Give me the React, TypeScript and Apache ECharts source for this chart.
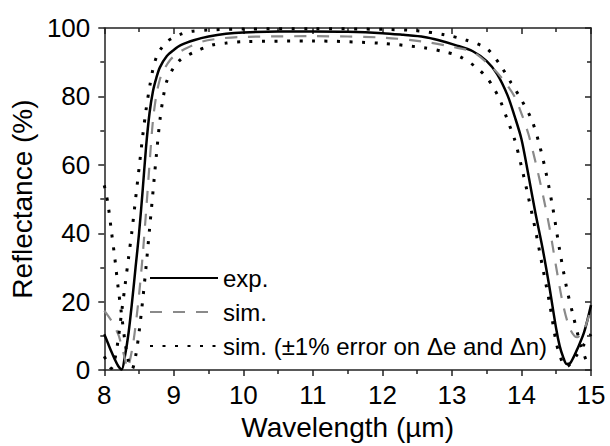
import React, { useEffect, useRef } from "react";
import * as echarts from "echarts";

// ---- data ----
const expWl = [8.0, 8.05, 8.1, 8.15, 8.2, 8.25, 8.3, 8.35, 8.4, 8.45, 8.5, 8.55, 8.6, 8.65, 8.7, 8.75, 8.8, 8.9, 9.0, 9.1, 9.3, 9.5, 9.75, 10.0, 10.5, 11.0, 11.5, 12.0, 12.3, 12.6, 12.8, 13.05, 13.3, 13.5, 13.65, 13.8, 13.9, 14.0, 14.1, 14.2, 14.3, 14.4, 14.5, 14.55, 14.6, 14.65, 14.7, 14.75, 14.8, 14.9, 15.0];
const expR = [10.5, 8, 5.5, 3.2, 1.2, 0.2, 4.5, 11, 20, 30, 40, 52, 65, 75, 81.5, 85.5, 88.5, 91.8, 93.6, 95, 96.5, 97.5, 98.3, 98.7, 99, 99, 98.9, 98.5, 98, 97.4, 96.5, 95, 93.2, 90.3, 86.5, 80.3, 74.3, 67.5, 57, 46, 36, 24.5, 12, 7, 3.8, 1.8, 2, 3.8, 6, 11, 19];

const simWl = [8.0, 8.1, 8.2, 8.25, 8.3, 8.33, 8.4, 8.45, 8.5, 8.55, 8.6, 8.65, 8.7, 8.75, 8.8, 8.85, 8.95, 9.05, 9.15, 9.4, 9.7, 10.0, 11.0, 12.0, 12.6, 13.0, 13.3, 13.6, 13.75, 13.9, 14.0, 14.1, 14.2, 14.3, 14.4, 14.5, 14.6, 14.7, 14.8, 14.9, 15.0];
const simR = [17.4, 14.5, 10.5, 7, 3, 0.5, 6, 13, 22, 33, 46, 60, 73, 80.5, 85, 87.5, 90.7, 92.5, 93.8, 96, 97, 97.4, 97.6, 97.2, 96, 94.5, 93, 88, 84.5, 80, 75, 69, 61, 52, 42, 30, 19, 12, 9.6, 11.8, 18];

const simHighWl = [8.0, 8.05, 8.1, 8.15, 8.2, 8.25, 8.3, 8.35, 8.4, 8.45, 8.5, 8.55, 8.6, 8.65, 8.7, 8.75, 8.8, 8.9, 9.0, 9.1, 9.25, 9.5, 10.0, 11.0, 12.0, 12.5, 12.9, 13.2, 13.5, 13.7, 13.85, 14.0, 14.15, 14.25, 14.35, 14.45, 14.55, 14.65, 14.75, 14.85, 14.95, 15.0];
const simHighR = [4, 2, 0.5, 3, 9, 17, 25, 33, 41, 50, 59, 68, 76, 82.5, 88, 91.5, 93.5, 96, 97.3, 98.2, 99, 99.4, 99.7, 99.8, 99.6, 99.2, 98, 96.5, 94, 89, 84, 79, 73, 66.5, 58, 47.5, 35, 24, 15.4, 7.5, 2, 1];

const simLowWl = [8.0, 8.05, 8.1, 8.15, 8.2, 8.25, 8.3, 8.35, 8.4, 8.45, 8.5, 8.55, 8.6, 8.65, 8.7, 8.75, 8.8, 8.85, 8.9, 9.0, 9.1, 9.3, 9.55, 9.75, 10.0, 11.0, 12.0, 12.6, 12.9, 13.1, 13.35, 13.5, 13.6, 13.7, 13.8, 13.9, 14.0, 14.1, 14.2, 14.3, 14.4, 14.5, 14.55, 14.6, 14.65, 14.7, 14.8, 14.9, 15.0];
const simLowR = [54, 49, 41, 33, 24, 16, 8, 2.5, 0.3, 4, 11, 20, 30, 41, 52, 63, 73, 80, 84.5, 88.5, 90.8, 93, 95, 95.6, 96, 96.2, 95.5, 94.2, 93, 91.8, 88.5, 85.5, 82.5, 78.5, 73, 67.5, 59.5, 50.5, 41, 30.5, 20, 8, 4.5, 1.8, 1, 1.8, 4.5, 7.5, 10.5];

const xTitle = "Wavelength (µm)";
const yTitle = "Reflectance (%)";
const nameExp = "exp.";
const nameSim = "sim.";
const nameErr = "sim. (±1% error on Δe and Δn)";

const FONT = "'Liberation Sans', Arial, Helvetica, sans-serif";
const AX = "#222";

const zip = (a: number[], b: number[]) => a.map((v, i) => [v, b[i]]);

export default function App() {
  const ref = useRef<HTMLDivElement>(null);
  useEffect(() => {
    if (!ref.current) return;
    const chart = echarts.init(ref.current, null, { renderer: "svg" });
    const axisLine = { show: true, onZero: false, lineStyle: { color: AX, width: 1.5 } };
    const tickStyle = { color: AX, width: 1.5 };
    const xBase = { type: "value", min: 8, max: 15, interval: 1, splitLine: { show: false } };
    const yBase = { type: "value", min: 0, max: 100, interval: 20, splitLine: { show: false } };
    const lineSeries = (name: string, data: number[][], style: any) => ({
      type: "line",
      name,
      data,
      showSymbol: false,
      symbol: "none",
      smooth: 0.3,
      lineStyle: style,
      itemStyle: { color: style.color },
      z: 3,
    });
    chart.setOption({
      animation: false,
      backgroundColor: "#fff",
      grid: { left: 96, right: 19, top: 28, bottom: 73 },
      legend: {
        orient: "vertical",
        left: 144,
        top: 261,
        itemWidth: 68,
        itemHeight: 14,
        itemGap: 10,
        data: [nameExp, nameSim, nameErr],
        itemStyle: { opacity: 0 },
        textStyle: { fontSize: 24, color: "#000", fontFamily: FONT },
        selectedMode: false,
      },
      xAxis: [
        {
          ...xBase,
          position: "bottom",
          axisLine,
          axisTick: { show: true, inside: false, length: 6, lineStyle: tickStyle },
          minorTick: { show: true, splitNumber: 2, length: 4, lineStyle: tickStyle },
          axisLabel: { fontSize: 26, color: "#000", fontFamily: FONT, margin: 12 },
          name: xTitle,
          nameLocation: "middle",
          nameGap: 40,
          nameTextStyle: { fontSize: 28, color: "#000", fontFamily: FONT },
        },
        {
          ...xBase,
          position: "top",
          axisLine,
          axisTick: { show: true, inside: true, length: 6, lineStyle: tickStyle },
          minorTick: { show: true, splitNumber: 2, length: 4, lineStyle: tickStyle },
          axisLabel: { show: false },
        },
      ],
      yAxis: [
        {
          ...yBase,
          position: "left",
          axisLine,
          axisTick: { show: true, inside: false, length: 6, lineStyle: tickStyle },
          minorTick: { show: true, splitNumber: 2, length: 4, lineStyle: tickStyle },
          axisLabel: { fontSize: 26, color: "#000", fontFamily: FONT, margin: 14 },
          name: yTitle,
          nameLocation: "middle",
          nameGap: 58,
          nameTextStyle: { fontSize: 28, color: "#000", fontFamily: FONT },
        },
        {
          ...yBase,
          position: "right",
          axisLine,
          axisTick: { show: true, inside: true, length: 6, lineStyle: tickStyle },
          minorTick: { show: true, splitNumber: 2, length: 4, lineStyle: tickStyle },
          axisLabel: { show: false },
        },
      ],
      series: [
        lineSeries(nameExp, zip(expWl, expR), { color: "#000", width: 2.5, type: "solid" }),
        lineSeries(nameSim, zip(simWl, simR), { color: "#8a8a8a", width: 2.2, type: [12, 11] }),
        lineSeries(nameErr, zip(simHighWl, simHighR), { color: "#000", width: 3, type: [3, 9.5] }),
        lineSeries(nameErr, zip(simLowWl, simLowR), { color: "#000", width: 3, type: [3, 9.5] }),
      ],
    });
    return () => chart.dispose();
  }, []);
  return (
    <div
      ref={ref}
      style={{ position: "fixed", left: 0, top: 0, width: 610, height: 446, background: "#fff" }}
    />
  );
}
